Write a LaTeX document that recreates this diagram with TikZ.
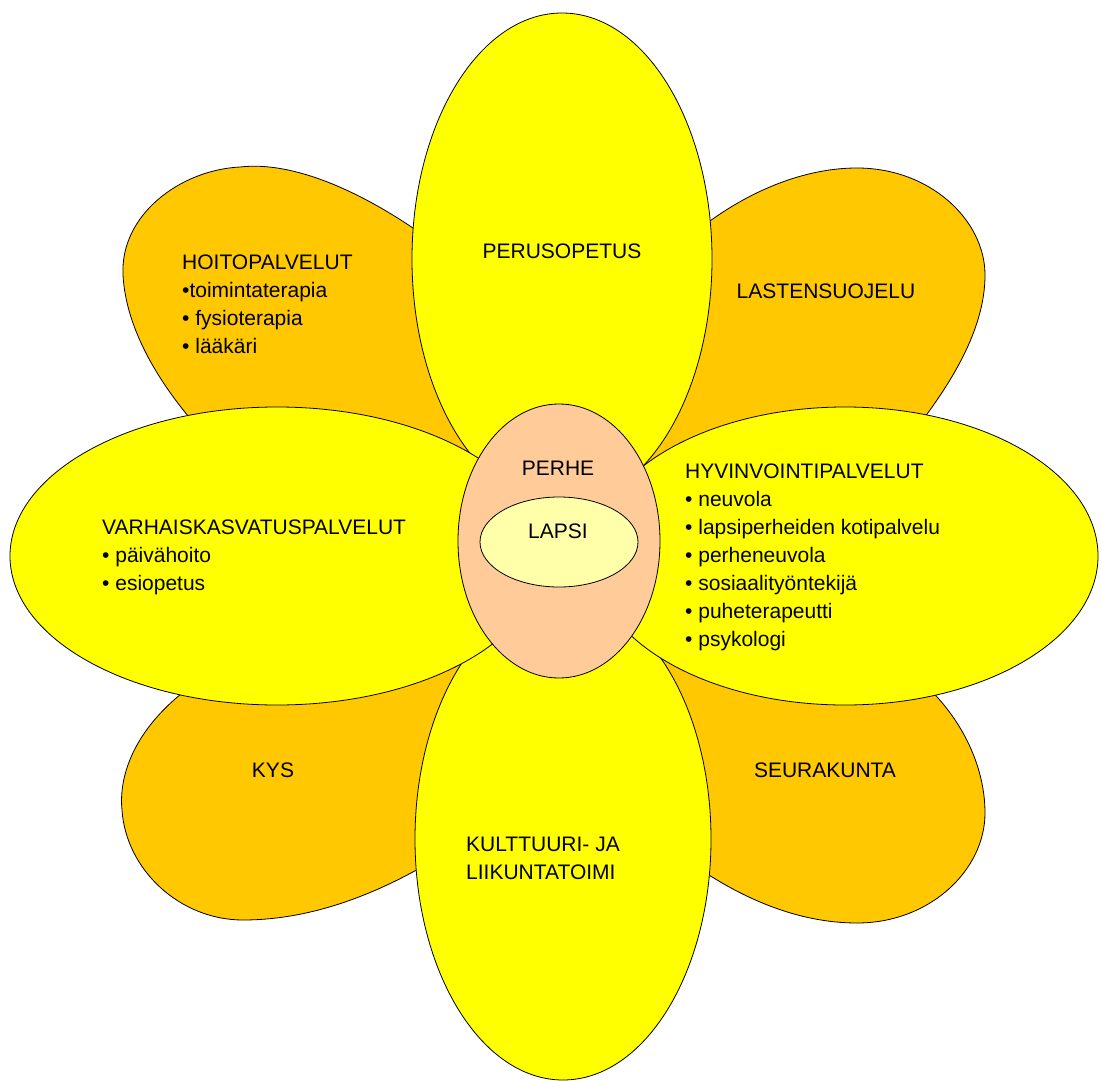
\documentclass[tikz,border=0pt]{standalone}
\usepackage{fontspec}
\setmainfont{Liberation Sans}
\usetikzlibrary{shapes.geometric}
\definecolor{petalY}{HTML}{FFFF00}
\definecolor{petalO}{HTML}{FFC800}
\definecolor{perheC}{HTML}{FFCC99}
\definecolor{lapsiC}{HTML}{FFFFAA}
\tikzset{
  petal/.style={draw=black, line width=0.8pt, fill=petalO, line join=round},
  bigleaf/.style={ellipse, draw=black, line width=0.8pt, fill=petalY, inner sep=0pt},
  core/.style={ellipse, draw=black, line width=0.8pt, inner sep=0pt},
  txt/.style={font=\fontsize{21}{28}\selectfont, inner sep=0pt, align=left, text=black}
}
\begin{document}
\begin{tikzpicture}[x=1pt,y=-1pt]
\useasboundingbox (0,0) rectangle (1101,1081);
\fill[white] (0,0) rectangle (1101,1081);
\coordinate (ctr) at (559,541);
% orange petals
\draw[petal] (ctr) -- (450,255) .. controls (380,200) and (300,160) .. (240,167)
  .. controls (180,170) and (120,215) .. (123,275)
  .. controls (126,330) and (160,385) .. (200,430) -- cycle;
\draw[petal] (ctr) -- (670,255) .. controls (720,205) and (790,168) .. (857,168)
  .. controls (930,168) and (985,220) .. (985,275)
  .. controls (985,330) and (950,385) .. (915,430) -- cycle;
\draw[petal] (ctr) -- (200,680) .. controls (140,720) and (118,770) .. (122,810)
  .. controls (126,870) and (180,920) .. (243,920)
  .. controls (310,920) and (380,895) .. (450,850) -- cycle;
\draw[petal] (ctr) -- (920,680) .. controls (965,720) and (985,770) .. (985,813)
  .. controls (985,870) and (930,923) .. (857,923)
  .. controls (800,923) and (740,900) .. (680,855) -- cycle;
% yellow petals
\node[bigleaf, minimum width=300pt, minimum height=492pt] (perusopetus) at (562,259) {};
\node[bigleaf, minimum width=296pt, minimum height=482pt] (kulttuuri) at (563,839) {};
\node[bigleaf, minimum width=534pt, minimum height=298pt] (varhais) at (277,556) {};
\node[bigleaf, minimum width=506pt, minimum height=298pt] (hyvinvointi) at (845,556) {};
% centre
\node[core, fill=perheC, minimum width=202pt, minimum height=274pt] (perhe) at (559,541) {};
\node[core, fill=lapsiC, minimum width=158pt, minimum height=90pt] (lapsi) at (559,542) {};
% texts
\node[txt, anchor=base] (tperus) at (562,258) {PERUSOPETUS};
\node[txt, anchor=base] (tlasten) at (826,298) {LASTENSUOJELU};
\node[txt, anchor=base] (tkys) at (273,777) {KYS};
\node[txt, anchor=base] (tseura) at (825,777) {SEURAKUNTA};
\node[txt, anchor=base] (tperhe) at (558,475) {PERHE};
\node[txt, anchor=base] (tlapsi) at (558,538) {LAPSI};
\node[txt, anchor=north west] (thoito) at (182,255) {HOITOPALVELUT\\•toimintaterapia\\• fysioterapia\\• lääkäri};
\node[txt, anchor=north west] (tvarhais) at (102,520) {VARHAISKASVATUSPALVELUT\\• päivähoito\\• esiopetus};
\node[txt, anchor=north west] (thyvin) at (685,464) {HYVINVOINTIPALVELUT\\• neuvola\\• lapsiperheiden kotipalvelu\\• perheneuvola\\• sosiaalityöntekijä\\• puheterapeutti\\• psykologi};
\node[txt, anchor=north west] (tkult) at (466,837) {KULTTUURI- JA\\LIIKUNTATOIMI};
\end{tikzpicture}
\end{document}
